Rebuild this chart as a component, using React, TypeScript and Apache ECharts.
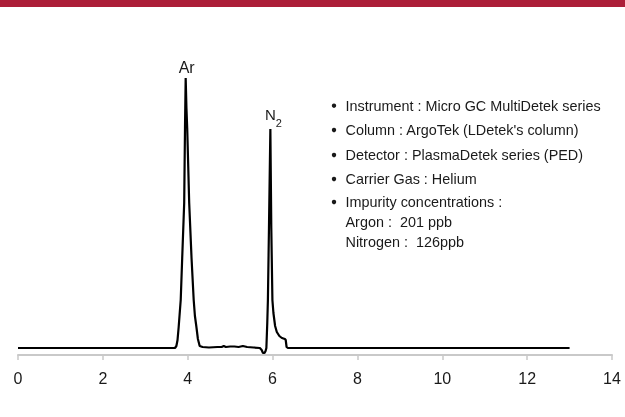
import React, { useEffect, useRef } from "react";
import * as echarts from "echarts";

// Retention time (min) and detector signal (arbitrary units, baseline = 0)
const retentionTimes = [
  0, 3.7, 3.733, 3.76, 3.787, 3.81, 3.835, 3.87, 3.917, 3.936, 3.952, 3.97, 3.988, 4.035, 4.09, 4.141, 4.17,
  4.205, 4.24, 4.282, 4.35, 4.5, 4.7, 4.8, 4.85, 4.9, 5.0, 5.1, 5.2, 5.3, 5.4, 5.55, 5.7, 5.743, 5.774, 5.81,
  5.835, 5.854, 5.875, 5.89, 5.915, 5.948, 5.97, 5.996, 6.02, 6.06, 6.1, 6.16, 6.22, 6.29, 6.31, 6.33, 6.36, 13,
];
const signal = [
  0, 0, 2, 8, 21, 34, 48, 90, 145, 220, 270, 240, 220, 145, 90, 48, 32,
  21, 9, 2, 1, 0.5, 1, 1, 2, 1, 1.5, 1.5, 1, 2, 1, 0.5, 0, -2, -5, -5,
  -3, 0, 25, 48, 120, 219, 120, 48, 35, 22, 16, 12, 10, 9, 8, 1, 0, 0,
];

const peakNames = ["Ar", "N2"];
const peakTimes = [3.952, 5.948];
const peakHeights = [270, 219];

const xTicks = [0, 2, 4, 6, 8, 10, 12, 14];

const bulletLines = [
  "Instrument : Micro GC MultiDetek series",
  "Column : ArgoTek (LDetek's column)",
  "Detector : PlasmaDetek series (PED)",
  "Carrier Gas : Helium",
  "Impurity concentrations :",
];
const subLines = ["Argon :  201 ppb", "Nitrogen :  126ppb"];

export default function App() {
  const ref = useRef<HTMLDivElement>(null);
  useEffect(() => {
    if (!ref.current) return;
    const chart = echarts.init(ref.current, undefined, { renderer: "svg" });
    const data = retentionTimes.map((t, i) => [t, signal[i]]);
    const textFont = "Liberation Sans";
    const textStyleBase = { fill: "#1a1a1a", fontSize: 14.4, fontFamily: textFont, verticalAlign: "middle" };
    const bulletBaselines = [110.5, 134.8, 159.8, 183.8, 206.8];
    const subBaselines = [227, 247];
    const graphics: any[] = [
      { type: "rect", shape: { x: 0, y: 0, width: 625, height: 7 }, style: { fill: "#AC1E38" } },
    ];
    bulletLines.forEach((s, i) => {
      graphics.push({ type: "circle", shape: { cx: 334, cy: bulletBaselines[i] - 4.8, r: 2.2 }, style: { fill: "#1a1a1a" } });
      graphics.push({ type: "text", x: 345.5, y: bulletBaselines[i] - 4.8, style: { ...textStyleBase, text: s } });
    });
    subLines.forEach((s, i) => {
      graphics.push({ type: "text", x: 345.5, y: subBaselines[i] - 4.8, style: { ...textStyleBase, text: s } });
    });

    chart.setOption({
      animation: false,
      grid: { left: 18, right: 13, top: 40, bottom: 62 },
      xAxis: {
        type: "value",
        min: xTicks[0],
        max: xTicks[xTicks.length - 1],
        interval: 2,
        axisLine: { show: true, onZero: false, lineStyle: { color: "#C9C9C9", width: 2 } },
        axisTick: { show: true, length: 5, lineStyle: { color: "#C9C9C9", width: 1.5 } },
        axisLabel: { fontSize: 16, color: "#1a1a1a", fontFamily: "Liberation Sans", margin: 15 },
        splitLine: { show: false },
      },
      yAxis: { type: "value", min: -7, max: 308, show: false, splitLine: { show: false } },
      series: [
        {
          type: "line",
          data,
          showSymbol: false,
          symbol: "none",
          lineStyle: { color: "#000", width: 2.2 },
          markPoint: {
            symbol: "circle",
            symbolSize: 1,
            itemStyle: { color: "rgba(0,0,0,0)" },
            data: peakNames.map((n, i) => ({
              coord: [peakTimes[i], peakHeights[i]],
              name: n,
              label: {
                show: true,
                position: "top",
                distance: i === 0 ? 2 : 0,
                offset: i === 0 ? [1, 0] : [3, 0],
                formatter: i === 0 ? n : "{a|N}{b|2}",
                color: "#1a1a1a",
                fontSize: 16,
                fontFamily: "Liberation Sans",
                rich: {
                  a: { fontSize: 15, lineHeight: 22, verticalAlign: "top", color: "#1a1a1a", fontFamily: "Liberation Sans" },
                  b: { fontSize: 11, lineHeight: 22, verticalAlign: "bottom", color: "#1a1a1a", fontFamily: "Liberation Sans" },
                },
              },
            })),
          },
        },
      ],
      graphic: graphics,
    });
    return () => chart.dispose();
  }, []);
  return <div ref={ref} style={{ position: "fixed", left: 0, top: 0, width: 625, height: 417 }} />;
}
